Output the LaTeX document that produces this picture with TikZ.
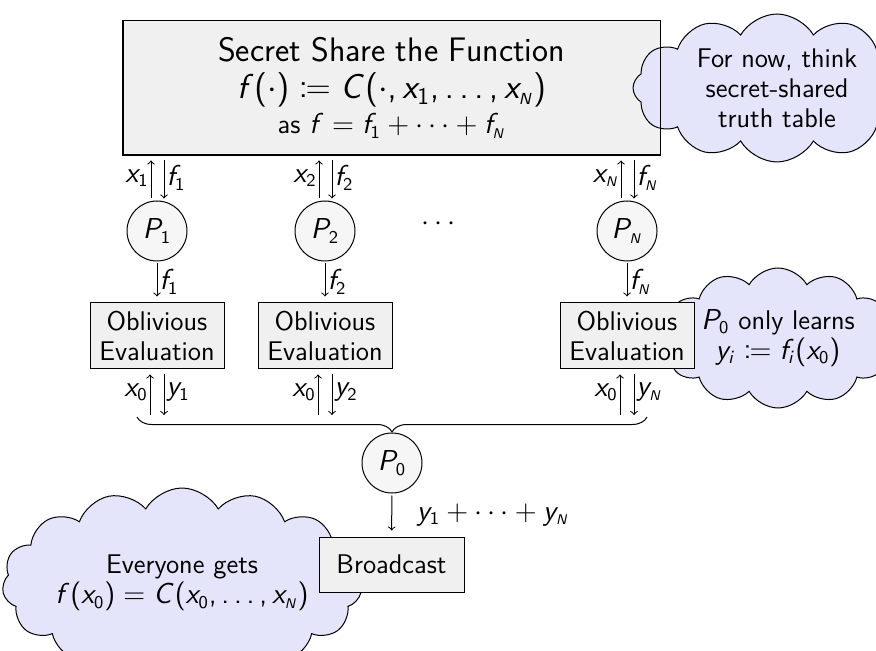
\documentclass[tikz,border=0pt]{standalone}
\usepackage{mathtools}
\usetikzlibrary{shapes.symbols,decorations.pathreplacing}
% sans-serif maths: upright digits and slanted letters from Computer Modern Sans
\SetSymbolFont{operators}{normal}{OT1}{cmss}{m}{n}
\SetSymbolFont{letters}{normal}{OT1}{cmss}{m}{sl}
\mathcode`\,="602C
\mathchardef\ldotp="602E
% the small index N
\newcommand\nN{{\scriptscriptstyle N}}
\definecolor{boxfill}{gray}{0.94}
\definecolor{partyfill}{gray}{0.965}
\definecolor{cloudfill}{RGB}{228,228,250}
\tikzset{
  every node/.style={font=\fontsize{13.5}{15}\selectfont\sffamily},
  bigbox/.style={draw, fill=boxfill, minimum width=268.5pt, minimum height=67pt,
    align=center, inner sep=0pt},
  evalbox/.style={draw, fill=boxfill, minimum width=67pt, minimum height=33pt,
    align=center, inner sep=0pt},
  castbox/.style={draw, fill=boxfill, minimum width=72.5pt, minimum height=27.5pt,
    inner sep=0pt},
  party/.style={circle, draw, fill=partyfill, minimum size=30pt, inner sep=0pt},
  thought/.style={cloud, cloud ignores aspect, draw, fill=cloudfill, align=center,
    inner sep=0pt, cloud puff arc=120},
  flow/.style={->, line width=0.5pt},
  lbl/.style={inner sep=1pt},
}
\begin{document}
\begin{tikzpicture}[x=0.5pt, y=-0.5pt, line width=0.5pt]
\clip (0,0) rectangle (876,651);

% dealer box with the function to be shared
\node[bigbox, font=\fontsize{17}{18.5}\selectfont\sffamily] (share) at (391.5,88)
  {Secret Share the Function\\
   $f(\cdot) \coloneqq C(\cdot, x_1, \ldots, x_\nN)$\\[-1pt]
   {\fontsize{13.5}{15}\selectfont as $f = f_1 + \cdots + f_\nN$}};
\node[thought, cloud puffs=12, minimum width=144pt, minimum height=74pt] (note1) at (777,88)
  {For now, think\\secret-shared\\truth table};
\draw (share.south west) rectangle (share.north east);

% remark on what P0 learns
\node[thought, cloud puffs=12, minimum width=116pt, minimum height=70pt] (note2) at (778,338)
  {$P_0$ only learns\\$y_i \coloneqq f_i(x_0)$};

% the N parties and their oblivious evaluations
\foreach \cx/\i/\s in {157/1/1, 325/2/2, 627/N/\nN} {
  \node[party] (P\i) at (\cx,231) {$P_{\s}$};
  \node[evalbox] (E\i) at (\cx,336) {Oblivious\\Evaluation};
  \path (P\i.north) ++(-6,0) coordinate (u\i) ++(13,0) coordinate (d\i);
  \draw[flow, shorten <=1pt, shorten >=2.5pt] (u\i) -- (u\i |- share.south)
    node[midway, left, lbl] {$x_{\s}$};
  \draw[flow, shorten <=2.5pt, shorten >=1pt] (d\i |- share.south) -- (d\i)
    node[midway, right, lbl] {$f_{\s}$};
  \draw[flow, shorten <=1pt, shorten >=3pt] (P\i) -- (E\i)
    node[midway, right, lbl] {$f_{\s}$};
  \coordinate (lu\i) at (\cx-7,415);
  \coordinate (ld\i) at (\cx+7,415);
  \draw[flow, shorten >=2.5pt] (lu\i) -- (lu\i |- E\i.south)
    node[midway, left, lbl] {$x_0$};
  \draw[flow, shorten <=2.5pt] (ld\i |- E\i.south) -- (ld\i)
    node[midway, right, lbl] {$y_{\s}$};
}
\node (dots) at (441,224) {$\cdots$};

% collecting the outputs at P0
\coordinate (braceL) at (137,417);
\coordinate (braceR) at (647,417);
\draw[decorate, decoration={brace, amplitude=7.5pt, mirror}] (braceL) -- (braceR);
\node[party] (P0) at (392,463) {$P_0$};

% final broadcast
\node[thought, cloud puffs=15, minimum width=164pt, minimum height=95pt] (note3) at (182,583)
  {Everyone gets\\$f(x_0) = C(x_0, \ldots, x_\nN)$};
\node[castbox] (cast) at (391.5,564.5) {Broadcast};
\draw[flow, shorten <=1pt, shorten >=3pt] (P0) -- (cast)
  node[midway, right, xshift=9pt] {$y_1 + \cdots + y_\nN$};
\end{tikzpicture}
\end{document}
